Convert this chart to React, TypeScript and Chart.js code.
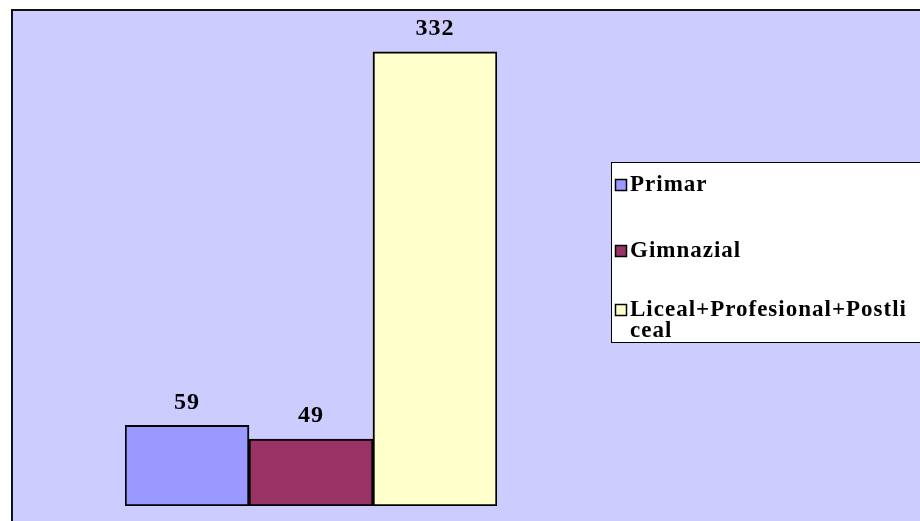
import React, { useEffect, useRef } from "react";
import { Chart, registerables } from "chart.js";

Chart.register(...registerables);

const seriesNames = ["Primar", "Gimnazial", "Liceal+Profesional+Postliceal"];
const seriesValues = [59, 49, 332];
const seriesColors = ["#9999FF", "#993366", "#FFFFCC"];
const categories = [""];

const FONT = "'Liberation Serif', 'Times New Roman', serif";

const backgroundPlugin = {
  id: "bgPanel",
  beforeDraw(chart: any) {
    const { ctx, width, height } = chart;
    ctx.save();
    ctx.fillStyle = "#FFFFFF";
    ctx.fillRect(0, 0, width, height);
    ctx.fillStyle = "#CCCCFF";
    ctx.fillRect(12, 10, width - 12, height - 10);
    ctx.strokeStyle = "#111111";
    ctx.lineWidth = 2;
    ctx.beginPath();
    ctx.moveTo(12, height + 2);
    ctx.lineTo(12, 10);
    ctx.lineTo(width + 2, 10);
    ctx.stroke();
    ctx.restore();
  },
};

const valueLabelPlugin = {
  id: "valueLabels",
  afterDatasetsDraw(chart: any) {
    const { ctx } = chart;
    ctx.save();
    ctx.font = `bold 24px ${FONT}`;
    (ctx as any).letterSpacing = "1px";
    ctx.fillStyle = "#000000";
    ctx.textAlign = "center";
    ctx.textBaseline = "middle";
    chart.data.datasets.forEach((ds: any, i: number) => {
      const meta = chart.getDatasetMeta(i);
      meta.data.forEach((el: any, j: number) => {
        ctx.fillText(String(ds.data[j]), el.x, el.y - 23);
      });
    });
    ctx.restore();
  },
};

const legendPlugin = {
  id: "boxLegend",
  afterDraw(chart: any) {
    const { ctx, width } = chart;
    const left = 611;
    const top = 162;
    const bottom = 342;
    ctx.save();
    ctx.fillStyle = "#FFFFFF";
    ctx.fillRect(left, top, width - left + 5, bottom - top);
    ctx.strokeStyle = "#000000";
    ctx.lineWidth = 1;
    ctx.strokeRect(left + 0.5, top + 0.5, width - left + 5, bottom - top);
    ctx.font = `bold 23px ${FONT}`;
    (ctx as any).letterSpacing = "1px";
    ctx.textAlign = "left";
    ctx.textBaseline = "middle";
    const textX = 630;
    const maxW = width - textX - 4;
    const rowY = [185, 251, 310];
    chart.data.datasets.forEach((ds: any, i: number) => {
      const y = rowY[i];
      ctx.fillStyle = ds.backgroundColor;
      ctx.fillRect(615.5, y - 5.5, 11, 11);
      ctx.strokeStyle = "#000000";
      ctx.lineWidth = 1.5;
      ctx.strokeRect(615.5, y - 5.5, 11, 11);
      const lines: string[] = [];
      let cur = "";
      for (const ch of ds.label) {
        if (ctx.measureText(cur + ch).width > maxW && cur) {
          lines.push(cur);
          cur = ch;
        } else cur += ch;
      }
      if (cur) lines.push(cur);
      ctx.fillStyle = "#000000";
      lines.forEach((ln, k) => ctx.fillText(ln, textX, y + k * 21));
    });
    ctx.restore();
  },
};

export default function App() {
  const ref = useRef<HTMLCanvasElement | null>(null);
  useEffect(() => {
    if (!ref.current) return;
    const chart = new Chart(ref.current, {
      type: "bar",
      data: {
        labels: categories,
        datasets: seriesNames.map((name, i) => ({
          label: name,
          data: [seriesValues[i]],
          backgroundColor: seriesColors[i],
          borderColor: "#000000",
          borderWidth: 2,
          borderSkipped: false,
          categoryPercentage: 1,
          barPercentage: 1,
        })),
      },
      options: {
        responsive: false,
        animation: false,
        layout: { padding: { left: 125, right: 423, top: 41, bottom: 15 } },
        scales: {
          x: { display: false },
          y: { display: false, min: 0, max: 340 },
        },
        plugins: {
          legend: { display: false },
          tooltip: { enabled: false },
        },
      },
      plugins: [backgroundPlugin, valueLabelPlugin, legendPlugin],
    });
    return () => chart.destroy();
  }, []);
  return (
    <div style={{ position: "fixed", left: 0, top: 0, width: 920, height: 521 }}>
      <canvas ref={ref} width={920} height={521} style={{ display: "block" }} />
    </div>
  );
}
